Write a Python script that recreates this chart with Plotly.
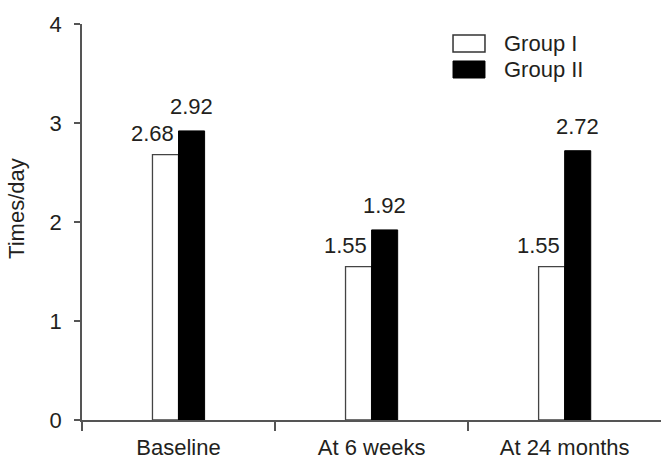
import plotly.graph_objects as go

categories = ["Baseline", "At 6 weeks", "At 24 months"]
group1 = [2.68, 1.55, 1.55]
group2 = [2.92, 1.92, 2.72]
series_names = ["Group I", "Group II"]
y_ticks = [0, 1, 2, 3, 4]
y_title = "Times/day"

FONT = "Liberation Sans, Arial, Helvetica, sans-serif"
TXT = "#231f20"
AX = "#555555"
FS = 22

fig = go.Figure()
fig.add_trace(go.Bar(x=categories, y=group1, name=series_names[0],
                     marker=dict(color="white", line=dict(color="#444444", width=1.3)),
                     showlegend=False))
fig.add_trace(go.Bar(x=categories, y=group2, name=series_names[1],
                     marker=dict(color="black", line=dict(color="black", width=1)),
                     showlegend=False))

annotations = []
for c, v in zip(categories, group1):
    annotations.append(dict(x=c, y=v, xref="x", yref="y", text=f"{v:.2f}", showarrow=False,
                            xanchor="right", yanchor="bottom", xshift=-3, yshift=7,
                            font=dict(family=FONT, size=FS, color=TXT)))
for c, v in zip(categories, group2):
    annotations.append(dict(x=c, y=v, xref="x", yref="y", text=f"{v:.2f}", showarrow=False,
                            xanchor="center", yanchor="bottom", xshift=13, yshift=10,
                            font=dict(family=FONT, size=FS, color=TXT)))

# y-axis title
annotations.append(dict(x=0, y=0.533, xref="paper", yref="paper", text=y_title,
                        showarrow=False, textangle=-90, xanchor="center", yanchor="middle",
                        xshift=-65, font=dict(family=FONT, size=FS, color=TXT)))

# legend (custom)
annotations.append(dict(x=0.7306, y=0.9508, xref="paper", yref="paper", text=series_names[0],
                        showarrow=False, xanchor="left", yanchor="middle", xshift=-3,
                        font=dict(family=FONT, size=FS, color=TXT)))
annotations.append(dict(x=0.7306, y=0.8851, xref="paper", yref="paper", text=series_names[1],
                        showarrow=False, xanchor="left", yanchor="middle", xshift=-3,
                        font=dict(family=FONT, size=FS, color=TXT)))
shapes = [
    dict(type="rect", xref="paper", yref="paper", x0=0.6408, x1=0.696, y0=0.9293, y1=0.9722,
         fillcolor="white", line=dict(color="#333333", width=1.5)),
    dict(type="rect", xref="paper", yref="paper", x0=0.6408, x1=0.696, y0=0.8636, y1=0.9066,
         fillcolor="black", line=dict(color="black", width=1)),
]

fig.update_layout(
    width=670, height=461,
    margin=dict(l=82, r=9, t=24, b=41),
    paper_bgcolor="white", plot_bgcolor="white",
    barmode="group", bargap=0.73, bargroupgap=0,
    font=dict(family=FONT, size=FS, color=TXT),
    annotations=annotations, shapes=shapes,
    xaxis=dict(showline=True, linecolor=AX, linewidth=1.5, ticks="outside",
               tickson="boundaries", ticklen=9, tickcolor=AX, tickwidth=1.5,
               range=[-0.5, 2.499], showgrid=False, zeroline=False,
               ticklabelstandoff=7, automargin=False,
               tickfont=dict(family=FONT, size=FS, color=TXT)),
    yaxis=dict(range=[0, 4], tickvals=y_ticks, ticktext=[str(t) for t in y_ticks],
               showline=True, linecolor=AX, linewidth=1.5, ticks="outside",
               ticklen=6, tickcolor=AX, tickwidth=1.5, showgrid=False, zeroline=False,
               ticklabelstandoff=8, automargin=False,
               tickfont=dict(family=FONT, size=FS, color=TXT)),
)

fig.write_html("out.html")
